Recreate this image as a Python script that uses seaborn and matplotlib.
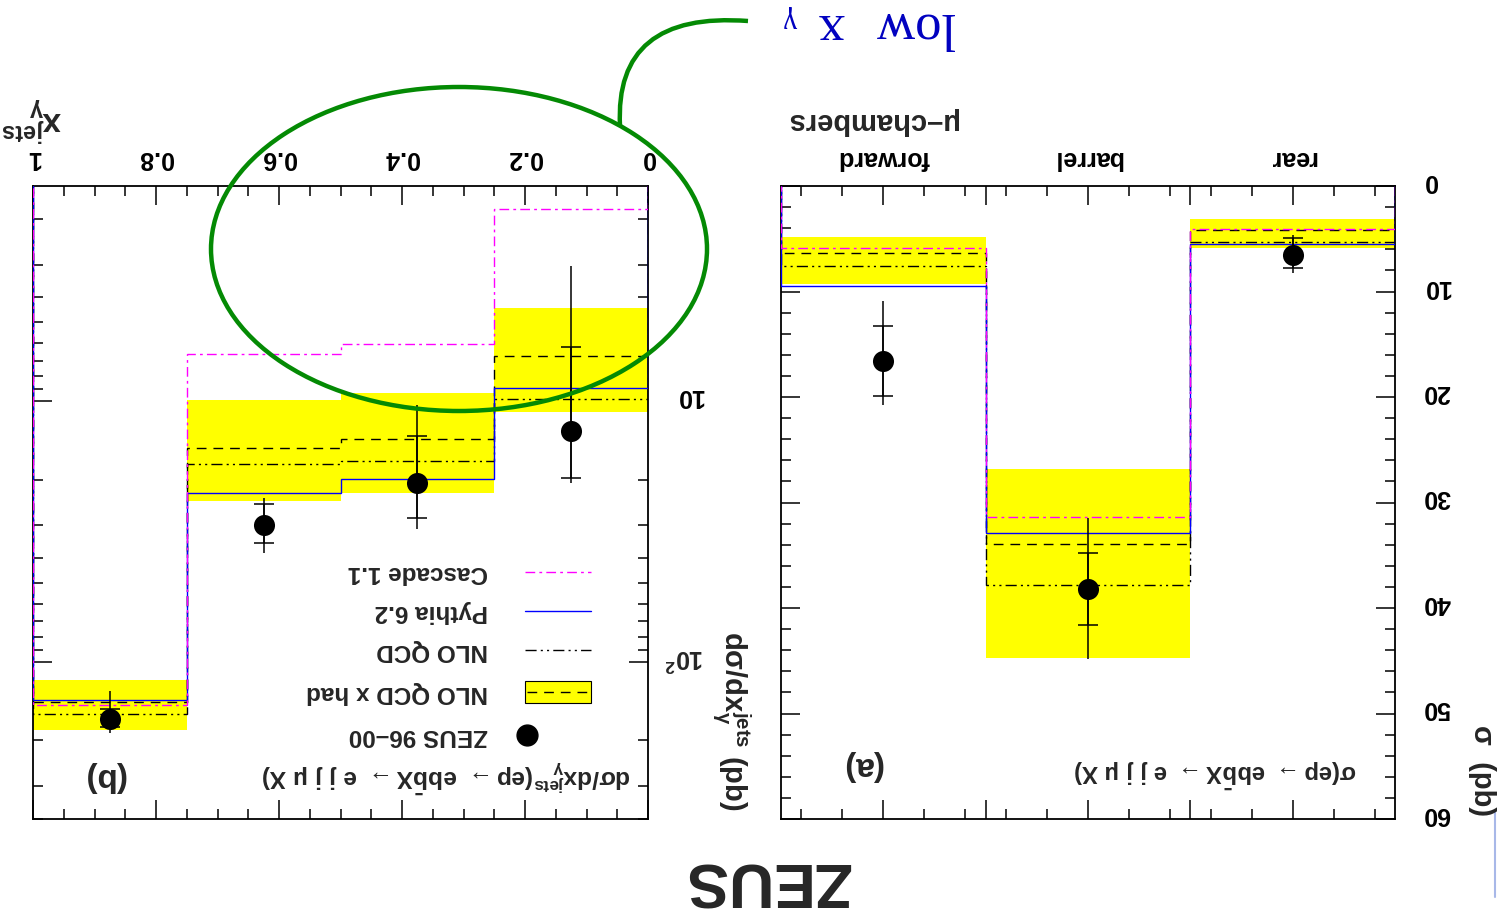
import numpy as np
import matplotlib
matplotlib.use("Agg")
import matplotlib.pyplot as plt
import matplotlib.transforms as mtransforms
import seaborn as sns
from matplotlib.patches import Ellipse, PathPatch, Rectangle
from matplotlib.path import Path
from matplotlib.ticker import (FixedLocator, FixedFormatter, FuncFormatter,
                               LogLocator, MultipleLocator, NullFormatter)

# ---------------- panel (a): cross section per muon-chamber region ----------------
regions = ["rear", "barrel", "forward"]
region_edges = [0.0, 1.0, 2.0, 3.0]
sig_zeus = [6.5, 38.2, 16.6]
sig_stat_lo = [4.9, 34.8, 13.3]
sig_stat_hi = [7.8, 41.6, 19.9]
sig_tot_lo = [4.6, 31.5, 10.9]
sig_tot_hi = [8.2, 44.8, 20.8]
sig_nlo_had = [4.2, 33.9, 6.35]
sig_nlo_had_lo = [3.1, 26.8, 4.8]
sig_nlo_had_hi = [5.9, 44.7, 9.3]
sig_nlo = [5.3, 37.8, 7.55]
sig_pythia = [5.5, 32.9, 9.5]
sig_cascade = [4.1, 31.4, 5.9]

# ---------------- panel (b): dsigma/dx_gamma^jets ----------------
xg_edges = [0.0, 0.25, 0.5, 0.75, 1.0]
xg_zeus = [13.0, 20.7, 30.0, 165.0]
xg_stat_lo = [6.2, 13.6, 24.8, 151.0]
xg_stat_hi = [19.7, 28.2, 35.1, 177.0]
xg_tot_lo = [3.05, 10.4, 23.5, 129.0]
xg_tot_hi = [20.6, 31.0, 38.1, 188.0]
xg_nlo_had = [6.7, 14.0, 15.1, 143.0]
xg_nlo_had_lo = [4.4, 9.3, 9.9, 117.0]
xg_nlo_had_hi = [11.0, 22.6, 24.1, 183.0]
xg_nlo = [9.85, 17.0, 17.5, 159.0]
xg_pythia = [8.95, 19.9, 22.5, 140.5]
xg_cascade = [1.84, 6.05, 6.6, 146.0]

legend_labels = ["ZEUS 96\u201300", "NLO QCD x had", "NLO QCD", "Pythia 6.2", "Cascade 1.1"]

YELLOW = "#ffff00"
DASH_HAD = (0, (7, 5))
DASH_NLO = (0, (8, 3, 1.5, 3, 1.5, 3))
DASH_CAS = (0, (7, 3, 2, 3))
GREEN = "#048a04"
TEXT_BLUE = "#0000c0"

sns.set_theme(style="ticks")
plt.rcParams.update({
    "font.family": ["Liberation Sans", "DejaVu Sans"],
    "font.weight": "bold",
    "mathtext.fontset": "custom",
    "mathtext.rm": "Liberation Sans",
    "mathtext.it": "Liberation Sans:italic",
    "mathtext.bf": "Liberation Sans:bold",
    "mathtext.sf": "Liberation Sans",
    "mathtext.default": "bf",
    "axes.linewidth": 1.3,
    "axes.edgecolor": "black",
    "xtick.color": "black",
    "ytick.color": "black",
    "ytick.alignment": "center",
})

fig = plt.figure(figsize=(14.97, 9.2), dpi=100)
W, H = 1497, 920


def px_axes(x0, y0, x1, y1):
    return fig.add_axes([x0 / W, 1 - y1 / H, (x1 - x0) / W, (y1 - y0) / H])


axB = px_axes(33, 187, 648, 820)
axA = px_axes(781, 187, 1395, 820)


def draw_panel(ax, edges, zeus, st_lo, st_hi, tt_lo, tt_hi,
               had, had_lo, had_hi, nlo, pythia, cascade, base):
    edges = np.asarray(edges)
    centers = 0.5 * (edges[:-1] + edges[1:])
    zeus = np.asarray(zeus)
    ax.stairs(had_hi, edges, baseline=had_lo, fill=True, color=YELLOW, lw=0, zorder=1)
    ax.stairs(had, edges, baseline=base, color="black", ls=DASH_HAD, lw=1.0, zorder=2)
    ax.stairs(nlo, edges, baseline=base, color="black", ls=DASH_NLO, lw=1.0, zorder=2)
    ax.stairs(pythia, edges, baseline=base, color="#0000ff", lw=1.0, zorder=3)
    ax.stairs(cascade, edges, baseline=base, color="#ff00ff", ls=DASH_CAS, lw=1.0, zorder=3)
    ax.errorbar(centers, zeus, yerr=[zeus - np.asarray(tt_lo), np.asarray(tt_hi) - zeus],
                fmt="none", ecolor="black", elinewidth=1.1, capsize=0, zorder=4)
    ax.errorbar(centers, zeus, yerr=[zeus - np.asarray(st_lo), np.asarray(st_hi) - zeus],
                fmt="none", ecolor="black", elinewidth=1.1, capsize=7, capthick=1.1, zorder=4)
    sns.scatterplot(x=centers, y=zeus, ax=ax, color="black", s=230, marker="o",
                    linewidth=0, zorder=5, legend=False)


draw_panel(axA, region_edges, sig_zeus, sig_stat_lo, sig_stat_hi, sig_tot_lo, sig_tot_hi,
           sig_nlo_had, sig_nlo_had_lo, sig_nlo_had_hi, sig_nlo, sig_pythia, sig_cascade, 0.0)
draw_panel(axB, xg_edges, xg_zeus, xg_stat_lo, xg_stat_hi, xg_tot_lo, xg_tot_hi,
           xg_nlo_had, xg_nlo_had_lo, xg_nlo_had_hi, xg_nlo, xg_pythia, xg_cascade, 1.0)

# the whole page is shown turned by 180 degrees: both axes run backwards
axA.set_xlim(3, 0)
axA.set_ylim(60, 0)
axA.xaxis.set_major_locator(FixedLocator([0.5, 1.0, 1.5, 2.0, 2.5]))
axA.xaxis.set_major_formatter(FixedFormatter([regions[0], "", regions[1], "", regions[2]]))
axA.xaxis.set_minor_locator(FixedLocator([0.1, 0.3, 0.7, 0.9, 1.1, 1.3, 1.7, 1.9,
                                          2.1, 2.3, 2.7, 2.9]))
axA.yaxis.set_major_locator(FixedLocator([0, 10, 20, 30, 40, 50, 60]))
axA.yaxis.set_minor_locator(MultipleLocator(2))

axB.set_yscale("log")
axB.set_xlim(1, 0)
axB.set_ylim(400, 1.5)
axB.xaxis.set_major_locator(MultipleLocator(0.2))
axB.xaxis.set_minor_locator(MultipleLocator(0.05))
axB.xaxis.set_major_formatter(FuncFormatter(
    lambda v, p: "0" if abs(v) < 1e-9 else ("1" if abs(v - 1) < 1e-9 else f"{v:.1f}")))
axB.yaxis.set_major_locator(FixedLocator([10, 100]))
axB.yaxis.set_major_formatter(FixedFormatter(["10", ""]))
axB.yaxis.set_minor_locator(LogLocator(base=10, subs=np.arange(2, 10)))
axB.yaxis.set_minor_formatter(NullFormatter())

for ax in (axA, axB):
    ax.tick_params(which="both", direction="in", top=True, bottom=True, left=True,
                   right=True, labeltop=True, labelbottom=False, labelleft=False,
                   labelright=True, labelrotation=180, width=1.1, labelsize=18)
    ax.tick_params(which="major", length=14)
    ax.tick_params(which="minor", length=7.5)
    ax.tick_params(axis="x", pad=12.5)
    ax.tick_params(axis="y", pad=20)

# turned labels sit a little low on their ticks; lift them by a few pixels
lift = mtransforms.ScaledTranslation(0, 6 / 100, fig.dpi_scale_trans)
fig.canvas.draw()
for ax in (axA, axB):
    for tick in ax.yaxis.get_major_ticks():
        tick.label2.set_transform(tick.label2.get_transform() + lift)
    for lab in ax.get_xticklabels() + ax.get_yticklabels():
        lab.set_fontweight("bold")

# label of the 10^2 decade: base aligned with the "10" above, exponent towards the axis
blend = mtransforms.blended_transform_factory(axB.transAxes, axB.transData)
axB.text((704 - 33) / 615, 100, r"$10^{2}$", transform=blend + lift, fontsize=18,
         rotation=180, rotation_mode="anchor", ha="left", va="center", clip_on=False)

# ---------------- overlay in page pixels ----------------
ov = fig.add_axes([0, 0, 1, 1], zorder=10)
ov.set_xlim(0, W)
ov.set_ylim(H, 0)
ov.axis("off")


def rtext(x, y, s, size, rot=180, **kw):
    kw.setdefault("ha", "center")
    kw.setdefault("va", "center")
    ov.text(x, y, s, fontsize=size, rotation=rot, **kw)


# axis titles
rtext(871, 121, "\u03bc\u2013chambers", 21)
rtext(32, 119, r"$x_{\gamma}^{jets}$", 24)
rtext(731, 721, r"$d\sigma/dx_{\gamma}^{jets}$ (pb)", 21, rot=270)
rtext(1482, 771, "\u03c3  (pb)", 21, rot=270)

# panel tags and process labels
rtext(104, 777, "(b)", 24)
rtext(862, 766, "(a)", 24)
rtext(446, 776, r"$d\sigma/dx_{\gamma}^{jets}(ep\rightarrow\ eb\bar{b}X\rightarrow\ e\ j\ j\ \mu\ X)$", 17.6)
rtext(1215, 773, r"$\mathrm{\sigma(ep\rightarrow\ eb\bar{b}X\rightarrow\ e\ j\ j\ \mu\ X)}$", 17.2)

# legend of panel (b)
leg_y = [736, 693, 651, 612, 573]
for lab, y in zip(legend_labels, leg_y):
    rtext(488, y, lab, 17.5, ha="right")
ov.plot([527], [leg_y[0]], "o", color="black", ms=15)
ov.add_patch(Rectangle((525, 682), 66, 22, facecolor=YELLOW, edgecolor="black", lw=0.8))
ov.plot([527, 589], [leg_y[1]] * 2, color="black", ls=DASH_HAD, lw=1.0)
ov.plot([525, 591], [leg_y[2]] * 2, color="black", ls=DASH_NLO, lw=1.0)
ov.plot([525, 591], [leg_y[3]] * 2, color="#0000ff", lw=1.0)
ov.plot([525, 591], [leg_y[4]] * 2, color="#ff00ff", ls=DASH_CAS, lw=1.0)

# experiment name
ov.text(767, 863, "ZEUS", fontsize=45, rotation=180, rotation_mode="anchor",
        ha="center", va="baseline")

# highlight of the low-x_gamma region
ov.add_patch(Ellipse((459, 250), 496, 324, fill=False, edgecolor=GREEN, lw=3.2))
ov.add_patch(PathPatch(Path([(620, 127), (614, 12), (748, 22)],
                            [Path.MOVETO, Path.CURVE3, Path.CURVE3]),
                       fill=False, edgecolor=GREEN, lw=3.2))
serif = ["Liberation Serif", "DejaVu Serif"]
ov.text(914, 13, "low", fontsize=38, family=serif, fontweight="normal", color=TEXT_BLUE,
        rotation=180, rotation_mode="anchor", ha="center", va="baseline")
ov.text(831, 14, "x", fontsize=38, family=serif, fontweight="normal", color=TEXT_BLUE,
        rotation=180, rotation_mode="anchor", ha="center", va="baseline")
ov.text(791, 12, "\u03b3", fontsize=22, family=serif, fontweight="normal", color=TEXT_BLUE,
        rotation=180, rotation_mode="anchor", ha="center", va="baseline")

ov.plot([1495, 1495], [813, 898], color="#a8b8e8", lw=1.5)

fig.savefig("out.png", dpi=100)
